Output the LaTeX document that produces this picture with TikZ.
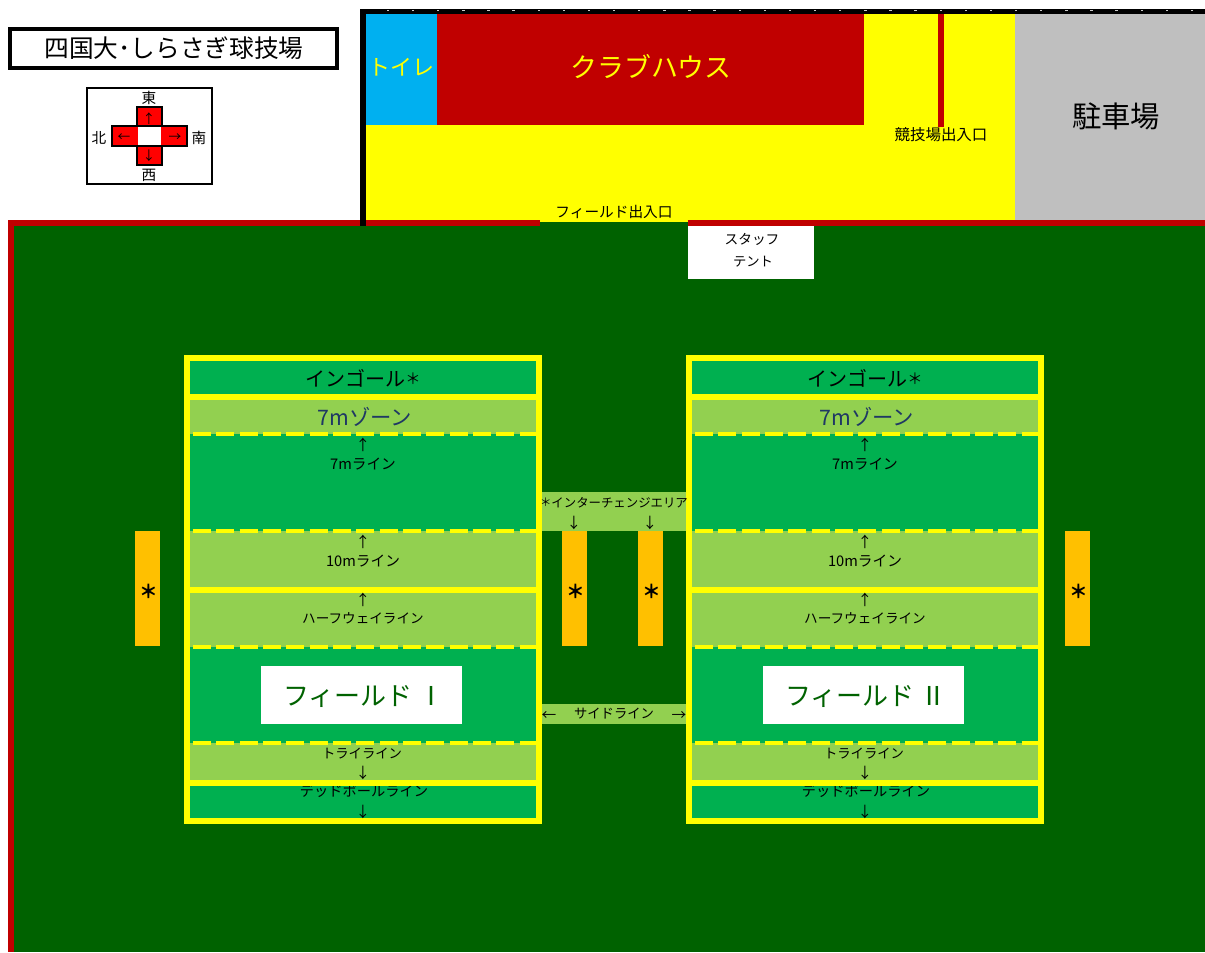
\documentclass[tikz,border=0pt]{standalone}
\usepackage{fontspec}
\setmainfont{Noto Sans CJK JP}
\definecolor{pitchdark}{HTML}{006200}
\definecolor{pitchmid}{HTML}{00B050}
\definecolor{pitchlight}{HTML}{92D050}
\definecolor{wallred}{HTML}{C00000}
\definecolor{toiletblue}{HTML}{00B0F0}
\definecolor{parkgray}{HTML}{BFBFBF}
\definecolor{benchorange}{HTML}{FFC000}
\definecolor{zoneblue}{HTML}{1F3864}
\definecolor{lineyellow}{HTML}{FFFF00}
\definecolor{crossred}{HTML}{FF0000}
\newcommand{\fs}[1]{\fontsize{#1}{#1}\selectfont}
\tikzset{
  lab/.style={inner sep=0pt,font=\fs{11}},
  labsmall/.style={inner sep=0pt,font=\fs{10}},
  labzone/.style={inner sep=0pt,font=\fs{16}},
  labbig/.style={inner sep=0pt,font=\fs{22}},
  labarrow/.style={inner sep=0pt,font=\fs{9.5}},
  star/.style={inner sep=0pt,font=\bfseries\fs{14}},
  dashline/.style={lineyellow,line width=3pt,dash pattern=on 13.5pt off 4pt},
  compass/.style={draw=black,line width=1.5pt,fill=crossred},
}
\begin{document}
\begin{tikzpicture}[x=0.75pt,y=-0.75pt]
\useasboundingbox (0,0) rectangle (1205,952);
% title and compass
\draw[line width=3pt] (10,29) rectangle (337,68);
\node[inner sep=0pt,font=\fs{18.5}] (title) at (174,48) {四国大･しらさぎ球技場};
\draw[line width=1.5pt] (87,88) rectangle (212,184);
\draw[compass] (137,107) rectangle (162,165);
\draw[compass] (112,126) rectangle (187,146);
\fill[white] (138,127) rectangle (161,145);
\node[lab] (east) at (149,98) {東};
\node[lab] (west) at (149,175) {西};
\node[lab] (north) at (99,138) {北};
\node[lab] (south) at (199,138) {南};
\node[labarrow] (up) at (149,119) {↑};
\node[labarrow] (down) at (149,156) {↓};
\node[labarrow] (left) at (124,138) {←};
\node[labarrow] (right) at (175,138) {→};
% buildings
\fill[lineyellow] (366,14) rectangle (1015,222);
\fill[toiletblue] (366,14) rectangle (437,125);
\fill[wallred] (437,14) rectangle (864,125);
\fill[wallred] (938,13) rectangle (944,127);
\fill[parkgray] (1015,14) rectangle (1205,220);
\node[inner sep=0pt,lineyellow,font=\fs{16.5}] (toilet) at (401,67) {トイレ};
\node[inner sep=0pt,lineyellow,font=\fs{20.2}] (club) at (651,67) {クラブハウス};
\node[labbig] (park) at (1116,116) {駐車場};
\node[inner sep=0pt,font=\fs{11.6}] (gate) at (941,135) {競技場出入口};
% ground
\fill[pitchdark] (14,226) rectangle (1205,952);
\fill[pitchdark] (540,222) rectangle (688,226);
\fill[wallred] (8,220) rectangle (540,226);
\fill[wallred] (688,220) rectangle (1205,226);
\fill[wallred] (8,220) rectangle (14,952);
\fill (360,9) rectangle (1205,14);
\fill (360,9) rectangle (366,226);
\foreach \i in {0,...,32}
  \fill[white!80!black] ({388+25.125*\i-1.2},10) rectangle ({388+25.125*\i+1.2},11.5);
\node[lab] (fieldgate) at (614,212) {フィールド出入口};
\fill[white] (688,226) rectangle (814,279);
\node[inner sep=0pt,font=\fs{10.3}] (staff) at (752,239) {スタッフ};
\node[labsmall] (tent) at (753,262) {テント};
% the two fields
\foreach \dx/\fd/\num in {0/A/Ⅰ,502/B/Ⅱ}{
\begin{scope}[shift={(\dx,0)}]
\fill[lineyellow] (184,355) rectangle (542,824);
\fill[pitchmid] (190,361) rectangle (536,394);
\fill[pitchlight] (190,400) rectangle (536,434);
\fill[pitchmid] (190,434) rectangle (536,531);
\fill[pitchlight] (190,531) rectangle (536,587);
\fill[pitchlight] (190,593) rectangle (536,647);
\fill[pitchmid] (190,647) rectangle (536,743);
\fill[pitchlight] (190,743) rectangle (536,780);
\fill[pitchmid] (190,786) rectangle (536,818);
\draw[dashline] (193,434) -- (536,434);
\draw[dashline] (193,531) -- (536,531);
\draw[dashline] (193,647) -- (536,647);
\draw[dashline] (193,743) -- (536,743);
\node[inner sep=0pt,font=\fs{15}] (goal\fd) at (363,378) {インゴール{\raisebox{1.2pt}{\fs{11.5}＊}}};
\node[labzone,zoneblue] (zone\fd) at (365,417) {7mゾーン};
\node[lab] (arrowa\fd) at (363,445) {↑};
\node[lab] (seven\fd) at (363,464) {7mライン};
\node[lab] (arrowb\fd) at (363,542) {↑};
\node[lab] (ten\fd) at (363,561) {10mライン};
\node[lab] (arrowc\fd) at (363,600) {↑};
\node[inner sep=0pt,font=\fs{10.2}] (half\fd) at (363,618) {ハーフウェイライン};
\node[labsmall] (try\fd) at (362,754) {トライライン};
\node[lab] (arrowd\fd) at (363,773) {↓};
\node[inner sep=0pt,font=\fs{10.7}] (dead\fd) at (364,791) {デッドボールライン};
\node[lab] (arrowe\fd) at (363,812) {↓};
\fill[lineyellow] (190,780) rectangle (536,786);
\fill[white] (261,666) rectangle (462,724);
\node[inner sep=0pt,pitchdark,font=\fs{19.5}] (name\fd) at (364,696) {フィールド \num};
\end{scope}
}
% benches and the strips between the fields
\foreach \bx in {135,562,638,1065}{
  \fill[benchorange] (\bx,531) rectangle ++(25,115);
  \node[star] (bench\bx) at ({\bx+14},591) {＊};
}
\fill[pitchlight] (542,492) rectangle (686,531);
\node[inner sep=0pt,font=\fs{9.3}] (inter) at (614,503) {{\raisebox{0.6pt}{\fs{8.5}＊}}インターチェンジエリア};
\node[lab] (ia) at (574,523) {↓};
\node[lab] (ib) at (650,523) {↓};
\fill[pitchlight] (542,704) rectangle (686,724);
\node[labsmall] (side) at (614,714) {サイドライン};
\node[lab] (sa) at (549,716) {←};
\node[lab] (sb) at (679,716) {→};
\end{tikzpicture}
\end{document}
